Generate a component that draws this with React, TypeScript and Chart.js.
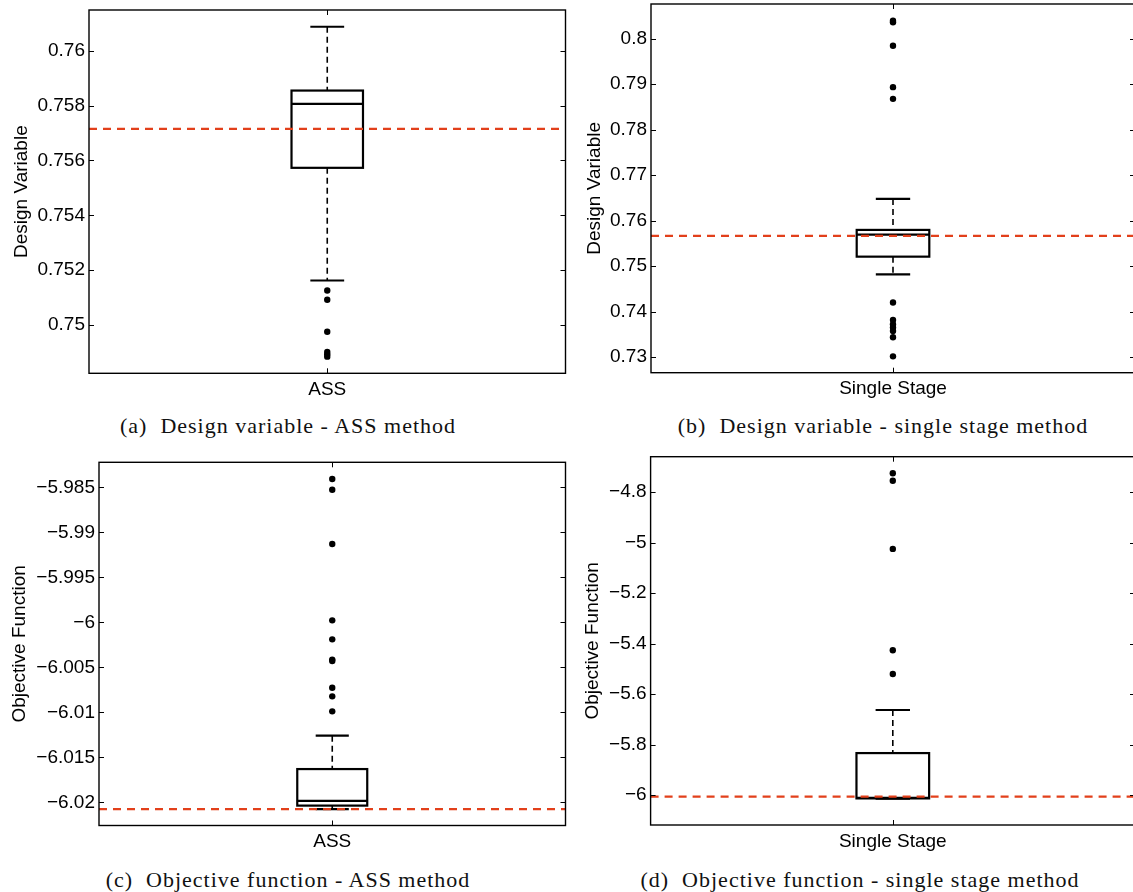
import React, { useEffect, useRef } from 'react';
import { Chart, registerables } from 'chart.js';

Chart.register(...registerables);

const SANS = '"Liberation Sans", Arial, Helvetica, sans-serif';
const SERIF = '"Liberation Serif", "Times New Roman", serif';

// ---------- Panel (a): Design variable - ASS method ----------
const categoryA = 'ASS';
// [lower whisker, Q1, median, Q3, upper whisker]
const statsA = [0.751625, 0.75573, 0.758062, 0.758545, 0.76087];
const outliersA = [0.751262, 0.750924, 0.74976, 0.749018, 0.748935, 0.74885];
const referenceA = 0.757149;
const yTicksA = [0.75, 0.752, 0.754, 0.756, 0.758, 0.76];
const yTickLabelsA = ['0.75', '0.752', '0.754', '0.756', '0.758', '0.76'];
const yRangeA = [0.748244, 0.76148];

// ---------- Panel (b): Design variable - single stage method ----------
const categoryB = 'Single Stage';
const statsB = [0.74817, 0.75207, 0.75692, 0.75795, 0.76477];
const outliersB = [0.80396, 0.8036, 0.79846, 0.78934, 0.78677, 0.74198, 0.73815, 0.7372, 0.73647, 0.73573, 0.73434, 0.73015];
const referenceB = 0.75664;
const yTicksB = [0.73, 0.74, 0.75, 0.76, 0.77, 0.78, 0.79, 0.8];
const yTickLabelsB = ['0.73', '0.74', '0.75', '0.76', '0.77', '0.78', '0.79', '0.8'];
const yRangeB = [0.72655, 0.80763];

// ---------- Panel (c): Objective function - ASS method ----------
const categoryC = 'ASS';
const statsC = [-6.02074, -6.02036, -6.01984, -6.0163, -6.01259];
const outliersC = [-5.98408, -5.98527, -5.9913, -5.99978, -6.00189, -6.00414, -6.0043, -6.00726, -6.00822, -6.00989];
const referenceC = -6.02076;
const yTicksC = [-6.02, -6.015, -6.01, -6.005, -6, -5.995, -5.99, -5.985];
const yTickLabelsC = ['\u22126.02', '\u22126.015', '\u22126.01', '\u22126.005', '\u22126', '\u22125.995', '\u22125.99', '\u22125.985'];
const yRangeC = [-6.02257, -5.98222];

// ---------- Panel (d): Objective function - single stage method ----------
const categoryD = 'Single Stage';
const statsD = [-6.0145, -6.0135, -6.011, -5.834, -5.6634];
const outliersD = [-4.7259, -4.7552, -5.0253, -5.4265, -5.5208];
const referenceD = -6.0067;
const yTicksD = [-6, -5.8, -5.6, -5.4, -5.2, -5, -4.8];
const yTickLabelsD = ['\u22126', '\u22125.8', '\u22125.6', '\u22125.4', '\u22125.2', '\u22125', '\u22124.8'];
const yRangeD = [-6.1188, -4.6602];

const matlabBoxPlugin = {
  id: 'matBox',
  beforeDatasetsDraw(chart: any) {
    const o = chart.options.plugins.matBox;
    if (!o || !o.stats) return;
    const ctx = chart.ctx;
    const xs = chart.scales.x;
    const ys = chart.scales.y;
    const [lo, q1, med, q3, hi] = o.stats;
    const X = (v: number) => xs.getPixelForValue(v);
    const Y = (v: number) => ys.getPixelForValue(v);
    const xc = X(1);
    const bl = X(1 - o.boxWidth / 2);
    const br = X(1 + o.boxWidth / 2);
    const cl = X(1 - o.capWidth / 2);
    const cr = X(1 + o.capWidth / 2);
    const seg = (x1: number, y1: number, x2: number, y2: number) => {
      ctx.beginPath();
      ctx.moveTo(x1, y1);
      ctx.lineTo(x2, y2);
      ctx.stroke();
    };
    ctx.save();
    ctx.strokeStyle = '#000';
    ctx.lineWidth = 1.6;
    ctx.setLineDash([6, 4]);
    seg(xc, Y(hi), xc, Y(q3));
    seg(xc, Y(q1), xc, Y(lo));
    ctx.setLineDash([]);
    ctx.lineWidth = 2.2;
    seg(cl, Y(hi), cr, Y(hi));
    seg(cl, Y(lo), cr, Y(lo));
    ctx.strokeRect(bl, Y(q3), br - bl, Y(q1) - Y(q3));
    seg(bl, Y(med), br, Y(med));
    ctx.restore();
  },
  afterDraw(chart: any) {
    const o = chart.options.plugins.matBox;
    if (!o) return;
    const ctx = chart.ctx;
    const a = chart.chartArea;
    const xs = chart.scales.x;
    const ys = chart.scales.y;
    const tl = 5;
    ctx.save();
    ctx.strokeStyle = '#000';
    ctx.lineWidth = 1;
    ys.ticks.forEach((t: any) => {
      const y = Math.round(ys.getPixelForValue(t.value)) + 0.5;
      ctx.beginPath();
      ctx.moveTo(a.left, y);
      ctx.lineTo(a.left + tl, y);
      ctx.moveTo(a.right, y);
      ctx.lineTo(a.right - tl, y);
      ctx.stroke();
    });
    xs.ticks.forEach((t: any) => {
      const x = Math.round(xs.getPixelForValue(t.value)) + 0.5;
      ctx.beginPath();
      ctx.moveTo(x, a.top);
      ctx.lineTo(x, a.top + tl);
      ctx.moveTo(x, a.bottom);
      ctx.lineTo(x, a.bottom - tl);
      ctx.stroke();
    });
    ctx.lineWidth = 1.4;
    ctx.strokeRect(a.left, a.top, a.right - a.left, a.bottom - a.top);
    ctx.restore();
  },
};

type PanelProps = {
  category: string;
  stats: number[];
  outliers: number[];
  reference: number;
  yTicks: number[];
  yTickLabels: string[];
  yRange: number[];
  yTitle: string;
  left: number;
  top: number;
  width: number;
  height: number;
  yAxisWidth: number;
  xAxisHeight: number;
  padTop: number;
  padRight: number;
  titlePad: number;
};

function BoxPanel(p: PanelProps) {
  const ref = useRef<HTMLCanvasElement>(null);
  useEffect(() => {
    if (!ref.current) return;
    const font = { family: SANS, size: 19, lineHeight: 1.2 };
    const chart = new Chart(ref.current, {
      type: 'scatter',
      data: {
        datasets: [
          {
            type: 'line',
            data: [
              { x: 0.5, y: p.reference },
              { x: 1.5, y: p.reference },
            ],
            borderColor: '#e2401b',
            borderWidth: 2.2,
            borderDash: [8, 6],
            pointRadius: 0,
            fill: false,
          } as any,
          {
            type: 'scatter',
            data: p.outliers.map((v) => ({ x: 1, y: v })),
            pointRadius: 3.2,
            backgroundColor: '#000',
            borderWidth: 0,
          },
        ],
      },
      plugins: [matlabBoxPlugin],
      options: {
        responsive: false,
        animation: false,
        devicePixelRatio: 1,
        layout: { padding: { left: 0, top: p.padTop, right: p.padRight, bottom: 0 } },
        scales: {
          x: {
            type: 'linear',
            min: 0.5,
            max: 1.5,
            grid: { display: false, drawTicks: false },
            border: { display: false },
            afterBuildTicks: (s: any) => {
              s.ticks = [{ value: 1 }];
            },
            afterFit: (s: any) => {
              s.height = p.xAxisHeight;
              s.paddingLeft = 0;
              s.paddingRight = 0;
            },
            ticks: {
              callback: () => p.category,
              font,
              color: '#000',
              padding: 5,
              maxRotation: 0,
              autoSkip: false,
            },
          },
          y: {
            type: 'linear',
            min: p.yRange[0],
            max: p.yRange[1],
            grid: { display: false, drawTicks: false },
            border: { display: false },
            afterBuildTicks: (s: any) => {
              s.ticks = p.yTicks.map((v) => ({ value: v }));
            },
            afterFit: (s: any) => {
              s.width = p.yAxisWidth;
              s.paddingTop = 0;
              s.paddingBottom = 0;
            },
            ticks: {
              callback: (_v: any, i: number) => p.yTickLabels[i],
              font,
              color: '#000',
              padding: 4,
              autoSkip: false,
            },
            title: {
              display: true,
              text: p.yTitle,
              font,
              color: '#000',
              padding: { top: p.titlePad, bottom: 0 },
            },
          },
        },
        plugins: {
          legend: { display: false },
          tooltip: { enabled: false },
          matBox: { stats: p.stats, boxWidth: 0.15, capWidth: 0.071 },
        } as any,
      },
    } as any);
    return () => chart.destroy();
  }, []);
  return (
    <canvas
      ref={ref}
      width={p.width}
      height={p.height}
      style={{ position: 'absolute', left: p.left, top: p.top, width: p.width, height: p.height }}
    />
  );
}

function Caption({ text, cx, top }: { text: string; cx: number; top: number }) {
  return (
    <div
      style={{
        position: 'absolute',
        left: cx - 300,
        top,
        width: 600,
        textAlign: 'center',
        fontFamily: SERIF,
        fontSize: 22,
        lineHeight: '24px',
        letterSpacing: '1px',
        whiteSpace: 'pre',
        color: '#111',
      }}
    >
      {text}
    </div>
  );
}

export default function App() {
  return (
    <div
      style={{
        position: 'absolute',
        left: 0,
        top: 0,
        width: 1133,
        height: 892,
        overflow: 'hidden',
        background: '#fff',
      }}
    >
      <BoxPanel
        category={categoryA}
        stats={statsA}
        outliers={outliersA}
        reference={referenceA}
        yTicks={yTicksA}
        yTickLabels={yTickLabelsA}
        yRange={yRangeA}
        yTitle="Design Variable"
        left={0}
        top={0}
        width={570}
        height={405}
        yAxisWidth={89}
        xAxisHeight={31.7}
        padTop={10}
        padRight={4.5}
        titlePad={10}
      />
      <BoxPanel
        category={categoryB}
        stats={statsB}
        outliers={outliersB}
        reference={referenceB}
        yTicks={yTicksB}
        yTickLabels={yTickLabelsB}
        yRange={yRangeB}
        yTitle="Design Variable"
        left={570}
        top={0}
        width={570}
        height={405}
        yAxisWidth={81}
        xAxisHeight={32.3}
        padTop={4}
        padRight={5}
        titlePad={13}
      />
      <BoxPanel
        category={categoryC}
        stats={statsC}
        outliers={outliersC}
        reference={referenceC}
        yTicks={yTicksC}
        yTickLabels={yTickLabelsC}
        yRange={yRangeC}
        yTitle="Objective Function"
        left={0}
        top={452}
        width={570}
        height={405}
        yAxisWidth={99}
        xAxisHeight={31.5}
        padTop={10.3}
        padRight={4.5}
        titlePad={8}
      />
      <BoxPanel
        category={categoryD}
        stats={statsD}
        outliers={outliersD}
        reference={referenceD}
        yTicks={yTicksD}
        yTickLabels={yTickLabelsD}
        yRange={yRangeD}
        yTitle="Objective Function"
        left={570}
        top={452}
        width={570}
        height={405}
        yAxisWidth={80.6}
        xAxisHeight={32}
        padTop={4.7}
        padRight={5}
        titlePad={11}
      />
      <Caption text="(a)  Design variable - ASS method" cx={288} top={413.6} />
      <Caption text="(b)  Design variable - single stage method" cx={883} top={413.6} />
      <Caption text="(c)  Objective function - ASS method" cx={288} top={867.6} />
      <Caption text="(d)  Objective function - single stage method" cx={860} top={867.6} />
    </div>
  );
}
